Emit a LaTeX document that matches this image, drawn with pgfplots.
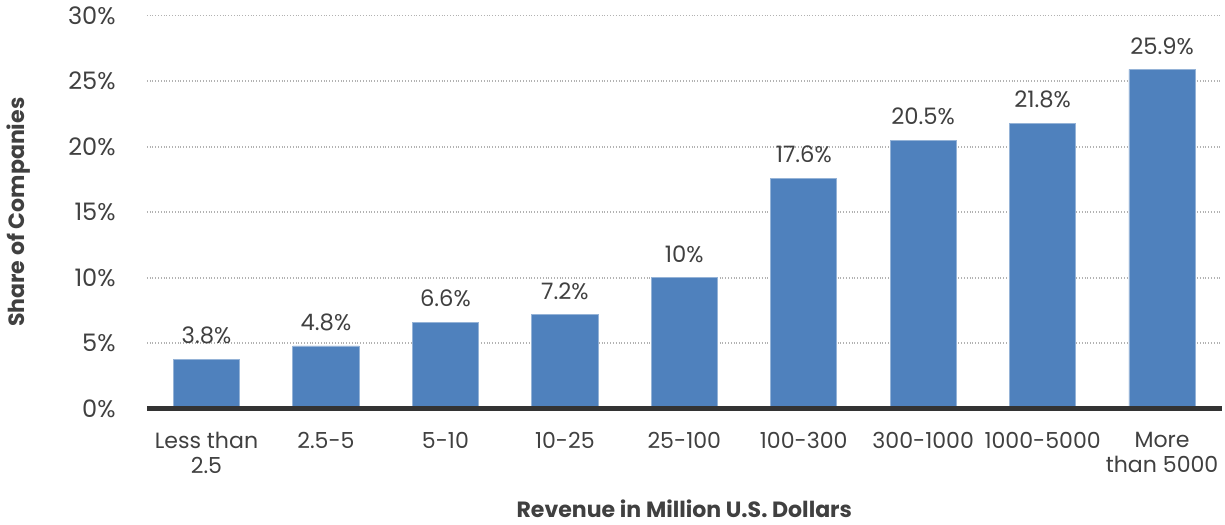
\documentclass[border=0pt]{standalone}
\usepackage{pgfplots}
\pgfplotsset{compat=1.18}
\usepackage{fontspec}
\setmainfont{Poppins}
\definecolor{barblue}{HTML}{4F81BD}
\definecolor{txtgray}{HTML}{404040}
\begin{document}
\begin{tikzpicture}
\begin{axis}[
    scale only axis,
    width=536pt, height=196pt,
    ybar, bar width=33pt,
    xmin=-0.5, xmax=8.5,
    ymin=0, ymax=30,
    xtick=data,
    xticklabels={Less than\\2.5,2.5-5,5-10,10-25,25-100,100-300,300-1000,1000-5000,More\\than 5000},
    x tick label style={align=center, font=\fontsize{11}{12.5}\selectfont\color{txtgray}},
    ytick={0,5,...,30},
    yticklabel={\pgfmathprintnumber{\tick}\%},
    y tick label style={font=\fontsize{12}{13}\selectfont\color{txtgray}},
    /pgf/number format/assume math mode=true,
    ymajorgrids, grid style={densely dotted, black!30, line width=0.8pt},
    axis line style={draw=none},
    major tick style={draw=none},
    xtick pos=bottom, ytick pos=left,
    yticklabel style={xshift=-12pt},
    xticklabel style={yshift=-4pt},
    xlabel={\bfseries Revenue in Million U.S. Dollars},
    ylabel={\bfseries Share of Companies},
    xlabel style={font=\fontsize{11}{12}\selectfont\color{txtgray}, yshift=-6pt},
    ylabel style={font=\fontsize{11}{12}\selectfont\color{txtgray}, yshift=12pt},
    nodes near coords={\pgfmathprintnumber{\pgfplotspointmeta}\%},
    nodes near coords style={font=\fontsize{11.3}{12.5}\selectfont\color{txtgray}, yshift=4pt},
    point meta=explicit symbolic,
    clip=false,
]
\addplot [fill=barblue, draw=barblue!60!white, line width=0.4pt] coordinates {
(0,3.8) [3.8] (1,4.8) [4.8] (2,6.6) [6.6] (3,7.2) [7.2] (4,10) [10]
(5,17.6) [17.6] (6,20.5) [20.5] (7,21.8) [21.8] (8,25.9) [25.9]
};
\draw [line width=2.5pt, color=black!80] (axis cs:-0.5,0) -- (axis cs:8.5,0);
\end{axis}
\end{tikzpicture}
\end{document}
